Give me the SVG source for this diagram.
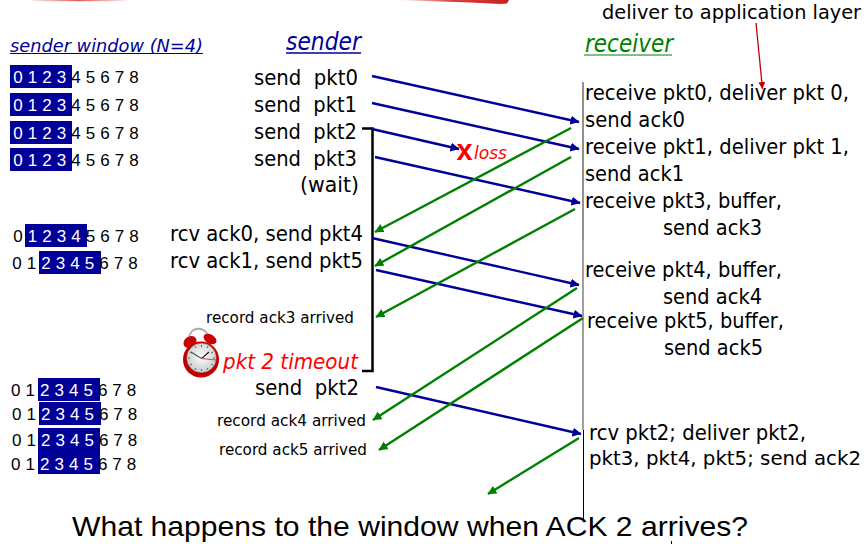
<svg xmlns="http://www.w3.org/2000/svg" width="866" height="544" viewBox="0 0 866 544">
  <style>
    text { font-family: "DejaVu Sans", "Liberation Sans", sans-serif; fill: #000; white-space: pre; }
    .d { font-family: "Liberation Sans", Arial, sans-serif; font-size: 17px; word-spacing: 0.3px; }
    .w { fill: #fff; }
    .win { fill: #000099; }
    .lab { font-size: 21px; }
    .small { font-size: 15.5px; }
    .rcv { font-size: 20.7px; }
    .pkt { stroke: #000099; stroke-width: 2.4; fill: none; marker-end: url(#blue); }
    .ack { stroke: #008000; stroke-width: 2.4; fill: none; marker-end: url(#green); }
    .it { font-style: italic; }
    .blue { fill: #000099; }
    .green { fill: #008000; }
    .red { fill: #ff0000; }
  </style>
  <defs>
    <marker id="blue" markerUnits="userSpaceOnUse" markerWidth="10" markerHeight="10" refX="8.500" refY="4.500" orient="auto">
      <path d="M0 0L9 4.500L0 9Z" fill="#000099"/>
    </marker>
    <marker id="green" markerUnits="userSpaceOnUse" markerWidth="10" markerHeight="10" refX="8.500" refY="4.500" orient="auto">
      <path d="M0 0L9 4.500L0 9Z" fill="#008000"/>
    </marker>
    <marker id="red" markerUnits="userSpaceOnUse" markerWidth="10" markerHeight="10" refX="7" refY="3.500" orient="auto">
      <path d="M0 0L7 3.500L0 7Z" fill="#c00000"/>
    </marker>
    <linearGradient id="fadeRight">
      <stop offset="0" stop-color="#d02020" stop-opacity="0"/>
      <stop offset="0.5" stop-color="#d02020" stop-opacity="0.85"/>
      <stop offset="1" stop-color="#c82020"/>
    </linearGradient>
    <linearGradient id="fadeBoth">
      <stop offset="0" stop-color="#e03030" stop-opacity="0.1"/>
      <stop offset="0.5" stop-color="#e03030" stop-opacity="0.8"/>
      <stop offset="1" stop-color="#e03030" stop-opacity="0.1"/>
    </linearGradient>
    <radialGradient id="face" cx="0.5" cy="0.45" r="0.6">
      <stop offset="0" stop-color="#ffffff"/>
      <stop offset="1" stop-color="#c4c4c4"/>
    </radialGradient>
  </defs>

  <!-- brush stroke along the top edge -->
  <g id="top-stroke">
    <path d="M395 0H509L507 3.500L500 4L470 2.500Z" fill="url(#fadeRight)"/>
    <rect x="32" y="0" width="94" height="1.200" fill="url(#fadeBoth)"/>
  </g>

  <g id="headings">
    <text class="it blue" x="10" y="52" font-size="18" textLength="193" lengthAdjust="spacingAndGlyphs">sender window (N=4)</text>
    <path d="M10 53.500H203" stroke="#000099" stroke-width="1"/>
    <text class="it blue" x="286" y="50" font-size="25" textLength="75" lengthAdjust="spacingAndGlyphs">sender</text>
    <path d="M286 53H361" stroke="#000099" stroke-width="1.600"/>
    <text class="it green" x="585" y="52" font-size="25" textLength="88" lengthAdjust="spacingAndGlyphs">receiver</text>
    <path d="M584 55H672" stroke="#008000" stroke-width="1.200"/>
  </g>

  <g id="sender-window">
    <rect class="win" x="10" y="65" width="62" height="23"/>
    <text class="d" x="13.300" y="83"><tspan class="w">0 1 2 3 </tspan>4 5 6 7 8</text>
    <rect class="win" x="10" y="93" width="62" height="23"/>
    <text class="d" x="13.300" y="111"><tspan class="w">0 1 2 3 </tspan>4 5 6 7 8</text>
    <rect class="win" x="10" y="121" width="62" height="23"/>
    <text class="d" x="13.300" y="139"><tspan class="w">0 1 2 3 </tspan>4 5 6 7 8</text>
    <rect class="win" x="10" y="148" width="62" height="23"/>
    <text class="d" x="13.300" y="166"><tspan class="w">0 1 2 3 </tspan>4 5 6 7 8</text>
    <rect class="win" x="25" y="224" width="62" height="23"/>
    <text class="d" x="13.300" y="242">0 <tspan class="w">1 2 3 4 </tspan>5 6 7 8</text>
    <rect class="win" x="39" y="251" width="62" height="23"/>
    <text class="d" x="12.300" y="269">0 1 <tspan class="w">2 3 4 5 </tspan>6 7 8</text>
    <rect class="win" x="38" y="378" width="62" height="23"/>
    <text class="d" x="11" y="396">0 1 <tspan class="w">2 3 4 5 </tspan>6 7 8</text>
    <rect class="win" x="39" y="402" width="62" height="23"/>
    <text class="d" x="12" y="420">0 1 <tspan class="w">2 3 4 5 </tspan>6 7 8</text>
    <rect class="win" x="38" y="428" width="62" height="46"/>
    <text class="d" x="12" y="446">0 1 <tspan class="w">2 3 4 5 </tspan>6 7 8</text>
    <text class="d" x="11" y="470">0 1 <tspan class="w">2 3 4 5 </tspan>6 7 8</text>
  </g>

  <g id="sender-labels">
    <text class="lab" x="254" y="85" textLength="104" lengthAdjust="spacingAndGlyphs">send  pkt0</text>
    <text class="lab" x="254" y="112" textLength="103" lengthAdjust="spacingAndGlyphs">send  pkt1</text>
    <text class="lab" x="254" y="139" textLength="103" lengthAdjust="spacingAndGlyphs">send  pkt2</text>
    <text class="lab" x="254" y="166" textLength="103" lengthAdjust="spacingAndGlyphs">send  pkt3</text>
    <text class="lab" x="300" y="192" textLength="59" lengthAdjust="spacingAndGlyphs">(wait)</text>
    <text class="lab" x="170" y="241" textLength="193" lengthAdjust="spacingAndGlyphs">rcv ack0, send pkt4</text>
    <text class="lab" x="170" y="268" textLength="193" lengthAdjust="spacingAndGlyphs">rcv ack1, send pkt5</text>
    <text class="small" x="206" y="323" textLength="148" lengthAdjust="spacingAndGlyphs">record ack3 arrived</text>
    <text class="it red" x="223" y="369" font-size="21.500" textLength="135" lengthAdjust="spacingAndGlyphs">pkt 2 timeout</text>
    <text class="lab" x="255" y="395" textLength="104" lengthAdjust="spacingAndGlyphs">send  pkt2</text>
    <text class="small" x="217" y="426" textLength="149" lengthAdjust="spacingAndGlyphs">record ack4 arrived</text>
    <text class="small" x="219" y="455" textLength="148" lengthAdjust="spacingAndGlyphs">record ack5 arrived</text>
  </g>

  <g id="alarm-clock">
    <path d="M189 338C190 326 206 326 208 336" fill="none" stroke="#aaa" stroke-width="1.800"/>
    <ellipse cx="190" cy="342" rx="7" ry="5.500" fill="#cc0000" transform="rotate(-35 190 342)"/>
    <ellipse cx="210" cy="339" rx="7" ry="4.500" fill="#cc0000" transform="rotate(30 210 339)"/>
    <circle cx="201" cy="359.500" r="18" fill="#c00000"/>
    <circle cx="201.500" cy="358" r="15" fill="url(#face)" stroke="#800000" stroke-width="0.500"/>
    <path d="M201.500 358.500L191 352" stroke="#2a6a4a" stroke-width="1.200" fill="none"/>
    <path d="M201.500 358.500L209 352" stroke="#222" stroke-width="1.200" fill="none"/>
    <path d="M201.500 358.500L216 360" stroke="#c05050" stroke-width="1.200" fill="none"/>
    <path d="M195 346l1 2M201.500 345v2M208 346l-1 2M213 352l-2 1M215 358h-2M213 365l-2-1M208 370l-1-2M201.500 371v-2M195 370l1-2M190 365l2-1M188 358h2M190 352l2 1" stroke="#444" stroke-width="0.800" fill="none"/>
  </g>

  <g id="receiver-line">
    <path d="M583 82V240" stroke="#222" stroke-width="1"/>
    <path d="M583 240V430" stroke="#777" stroke-width="1.400"/>
    <path d="M583.500 430V520" stroke="#000" stroke-width="1"/>
  </g>

  <g id="timer-bracket">
    <path d="M362 128.500H372.500V371H362" fill="none" stroke="#000" stroke-width="2.500"/>
  </g>

  <g id="connectors">
    <path class="pkt" d="M372 76L579 122"/>
    <path class="pkt" d="M372 103L579 149"/>
    <path class="pkt" d="M372 129L459 149"/>
    <path class="pkt" d="M375 157L580 203"/>
    <path class="pkt" d="M372 238L579 285"/>
    <path class="pkt" d="M376 270L582 316"/>
    <path class="pkt" d="M376 387L581 434"/>
    <path class="ack" d="M571 128L375 232"/>
    <path class="ack" d="M571 157L375 266"/>
    <path class="ack" d="M575 209L376 317"/>
    <path class="ack" d="M577 288L373 420"/>
    <path class="ack" d="M583 318L379 450"/>
    <path class="ack" d="M579 438L488 494"/>
    <path d="M756 23L762.500 89" stroke="#c00000" stroke-width="1.300" fill="none" marker-end="url(#red)"/>
  </g>

  <g id="loss">
    <text class="red" x="456.500" y="160" font-size="29" font-weight="bold" style="font-family:'Liberation Sans',Arial,sans-serif">x</text>
    <text class="it red" x="474" y="159" font-size="18.500" textLength="33" lengthAdjust="spacingAndGlyphs">loss</text>
  </g>

  <g id="receiver-labels">
    <text x="602" y="19" font-size="19.500" textLength="259" lengthAdjust="spacingAndGlyphs">deliver to application layer</text>
    <text class="rcv" x="585" y="100" textLength="264" lengthAdjust="spacingAndGlyphs">receive pkt0, deliver pkt 0,</text>
    <text class="rcv" x="585" y="127" textLength="100" lengthAdjust="spacingAndGlyphs">send ack0</text>
    <text class="rcv" x="585" y="154" textLength="264" lengthAdjust="spacingAndGlyphs">receive pkt1, deliver pkt 1,</text>
    <text class="rcv" x="585" y="181" textLength="99" lengthAdjust="spacingAndGlyphs">send ack1</text>
    <text class="rcv" x="585" y="208" textLength="197" lengthAdjust="spacingAndGlyphs">receive pkt3, buffer,</text>
    <text class="rcv" x="663" y="235" textLength="99" lengthAdjust="spacingAndGlyphs">send ack3</text>
    <text class="rcv" x="585" y="277" textLength="197" lengthAdjust="spacingAndGlyphs">receive pkt4, buffer,</text>
    <text class="rcv" x="663" y="304" textLength="99" lengthAdjust="spacingAndGlyphs">send ack4</text>
    <text class="rcv" x="587" y="328" textLength="197" lengthAdjust="spacingAndGlyphs">receive pkt5, buffer,</text>
    <text class="rcv" x="664" y="355" textLength="99" lengthAdjust="spacingAndGlyphs">send ack5</text>
    <text class="rcv" x="589" y="440" textLength="217" lengthAdjust="spacingAndGlyphs">rcv pkt2; deliver pkt2,</text>
    <text x="589" y="465" font-size="19.500" textLength="272" lengthAdjust="spacingAndGlyphs">pkt3, pkt4, pkt5; send ack2</text>
  </g>

  <g id="question">
    <text x="72" y="536" font-size="28" style="font-family:'Liberation Sans',Arial,sans-serif" textLength="676" lengthAdjust="spacingAndGlyphs">What happens to the window when ACK 2 arrives?</text>
    <path d="M671.500 541V544" stroke="#000" stroke-width="1"/>
  </g>
</svg>
